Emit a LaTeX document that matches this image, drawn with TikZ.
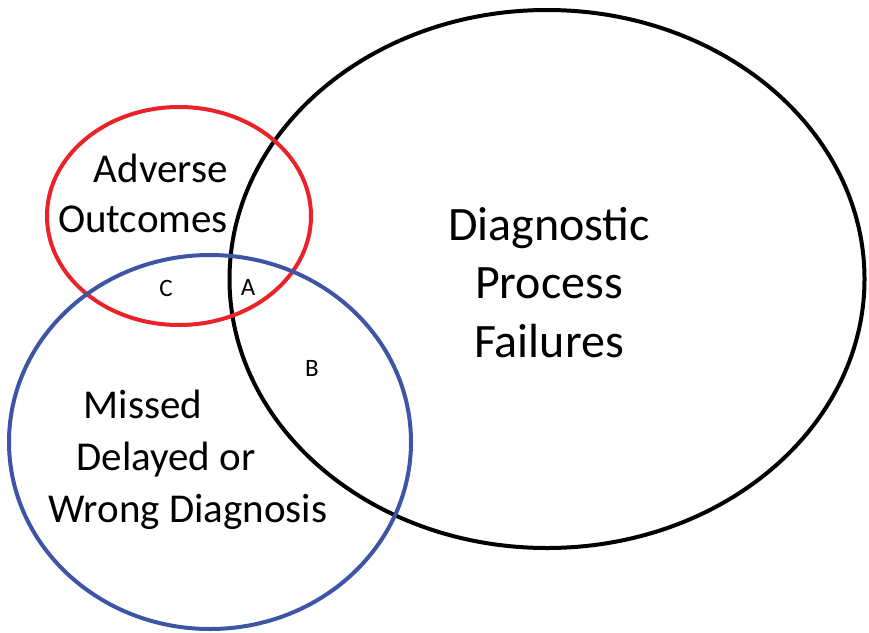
\documentclass[tikz,border=0pt]{standalone}
\usepackage{fontspec}
\setmainfont{Carlito}
\definecolor{vred}{RGB}{234,34,42}
\definecolor{vblue}{RGB}{62,84,165}
\begin{document}
\begin{tikzpicture}[x=1pt,y=-1pt,
  setline/.style={line width=4pt},
  bigtxt/.style={inner sep=0pt,font=\fontsize{41}{49}\selectfont},
  hugetxt/.style={inner sep=0pt,font=\fontsize{48}{58}\selectfont},
  regtxt/.style={inner sep=0pt,font=\fontsize{25}{30}\selectfont},
]
\useasboundingbox (0,0) rectangle (869,632);
% sets
\draw[setline,black] (547,279) ellipse [x radius=317.5, y radius=269];
\draw[setline,vred] (179,216) ellipse [x radius=132, y radius=109];
\draw[setline,vblue] (210,442) ellipse [x radius=201, y radius=187];
% labels
\node[bigtxt,anchor=base east] (adv) at (228,182) {Adverse};
\node[bigtxt,anchor=base east] (out) at (228,232) {Outcomes};
\node[bigtxt,anchor=base] (mis) at (143,418) {Missed};
\node[bigtxt,anchor=base] (del) at (166,470) {Delayed or};
\node[bigtxt,anchor=base] (wro) at (188,522) {Wrong Diagnosis};
\node[hugetxt,anchor=base] (dia) at (549,240) {Diagnostic};
\node[hugetxt,anchor=base] (pro) at (549,298) {Process};
\node[hugetxt,anchor=base] (fai) at (549,357) {Failures};
\node[regtxt,anchor=base] (c) at (166,296) {C};
\node[regtxt,anchor=base] (a) at (248,295) {A};
\node[regtxt,anchor=base] (b) at (312,376) {B};
\end{tikzpicture}
\end{document}
